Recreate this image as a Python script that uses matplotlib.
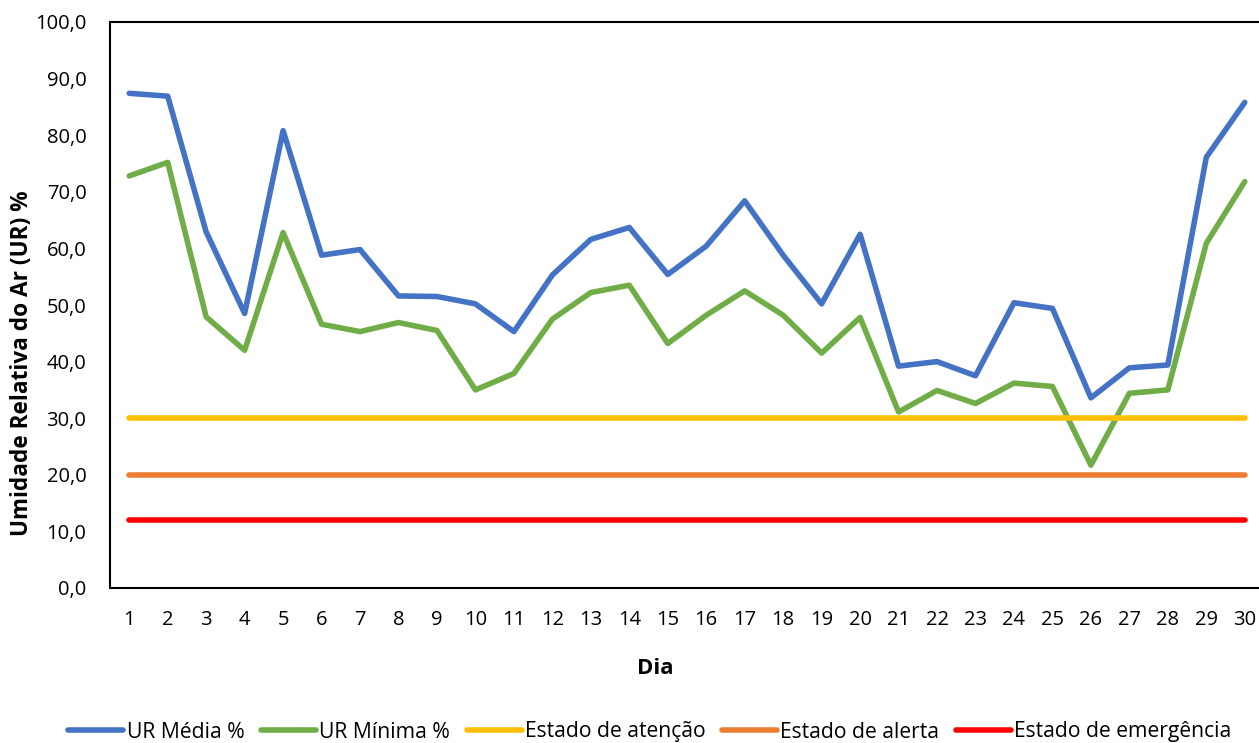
import matplotlib.pyplot as plt

plt.rcParams['font.family'] = ['Open Sans', 'DejaVu Sans']

# Umidade relativa diária do mês
dias = list(range(1, 31))
ur_media = [87.4, 86.9, 62.9, 48.5, 80.8, 58.8, 59.8, 51.6, 51.5, 50.2,
            45.3, 55.3, 61.6, 63.7, 55.4, 60.4, 68.4, 58.8, 50.2, 62.5,
            39.2, 40.0, 37.5, 50.4, 49.4, 33.6, 38.9, 39.4, 76.1, 85.8]
ur_minima = [72.8, 75.2, 47.9, 42.0, 62.8, 46.6, 45.3, 46.9, 45.5, 35.0,
             37.9, 47.5, 52.2, 53.5, 43.2, 48.2, 52.5, 48.2, 41.5, 47.8,
             31.1, 34.9, 32.6, 36.2, 35.6, 21.7, 34.4, 35.0, 60.9, 71.8]

# Limites de referência
estado_atencao = 30
estado_alerta = 20
estado_emergencia = 12

W, H = 1259, 743
fig = plt.figure(figsize=(W / 100, H / 100), dpi=100)
ax = fig.add_axes([110 / W, 1 - 588 / H, (1264 - 110) / W, (588 - 22) / H])

lw = 4
ax.plot(dias, ur_media, color='#4472C4', lw=lw, label='UR Média %', solid_capstyle='round')
ax.plot(dias, ur_minima, color='#70AD47', lw=lw, label='UR Mínima %', solid_capstyle='round')
ax.plot(dias, [estado_atencao] * len(dias), color='#FFC000', lw=lw, label='Estado de atenção', solid_capstyle='round')
ax.plot(dias, [estado_alerta] * len(dias), color='#ED7D31', lw=lw, label='Estado de alerta', solid_capstyle='round')
ax.plot(dias, [estado_emergencia] * len(dias), color='#FF0000', lw=lw, label='Estado de emergência', solid_capstyle='round')

ax.set_xlim(0.5, 30.5)
ax.set_ylim(0, 100)
ax.set_xticks(dias)
ax.set_yticks(range(0, 101, 10))
ax.set_yticklabels([f'{v:.1f}'.replace('.', ',') for v in range(0, 101, 10)])
ax.tick_params(axis='both', length=0, labelsize=14.5, colors='#000000')
ax.tick_params(axis='x', pad=16)
ax.tick_params(axis='y', pad=17)
for s in ax.spines.values():
    s.set_linewidth(1.5)
    s.set_color('black')

# títulos dos eixos centrados na área do gráfico
fig.text(655 / W, 1 - 668 / H, 'Dia', fontsize=16, fontweight='bold', ha='center', va='center')
fig.text(22 / W, 1 - 363 / H, 'Umidade Relativa do Ar (UR) %', fontsize=16.3, fontweight='bold',
         rotation=90, ha='center', va='center')

fig.legend(loc='center', bbox_to_anchor=(650 / W, 1 - 732 / H), ncol=5, frameon=False,
           fontsize=15.2, handlelength=2.6, handletextpad=0.15, columnspacing=0.8)

fig.savefig('out.png', dpi=100)
